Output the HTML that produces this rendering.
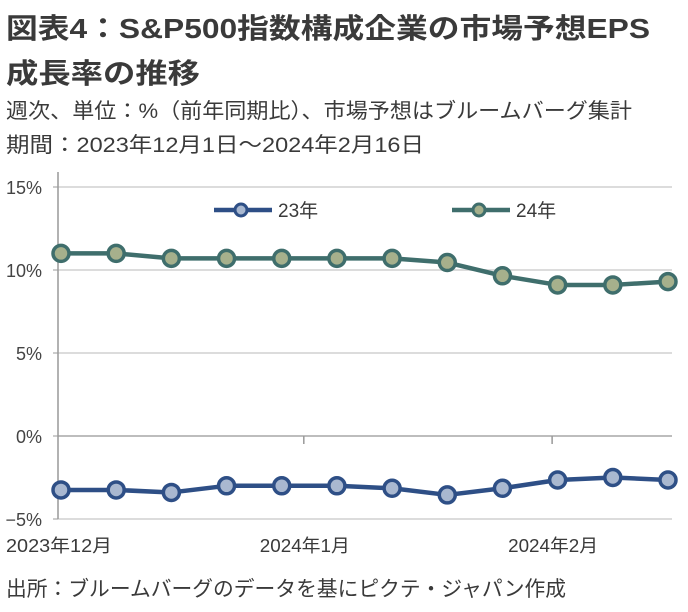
<!DOCTYPE html>
<html><head><meta charset="utf-8"><style>
html,body{margin:0;padding:0;background:#fff;}
svg{display:block;font-family:"Liberation Sans","Noto Sans CJK JP",sans-serif;}
</style></head><body>
<svg id="chart" width="688" height="612" viewBox="0 0 688 612" xmlns="http://www.w3.org/2000/svg">
<text x="6" y="38" font-size="28" font-weight="bold" fill="#3a3a3a" textLength="644" lengthAdjust="spacingAndGlyphs">図表4：S&amp;P500指数構成企業の市場予想EPS</text>
<text x="6" y="83" font-size="28" font-weight="bold" fill="#3a3a3a" textLength="194" lengthAdjust="spacingAndGlyphs">成長率の推移</text>
<text x="6" y="118" font-size="21" fill="#3a3a3a" textLength="626" lengthAdjust="spacingAndGlyphs">週次、単位：%（前年同期比）、市場予想はブルームバーグ集計</text>
<text x="6" y="152" font-size="21" fill="#3a3a3a" textLength="418" lengthAdjust="spacingAndGlyphs">期間：2023年12月1日～2024年2月16日</text>
<text x="6" y="596" font-size="21" fill="#3a3a3a" textLength="560" lengthAdjust="spacingAndGlyphs">出所：ブルームバーグのデータを基にピクテ・ジャパン作成</text>
<g id="plot"></g>
</svg>
<script>
const categories = ["2023-12-01","2023-12-08","2023-12-15","2023-12-22","2023-12-29","2024-01-05","2024-01-12","2024-01-19","2024-01-26","2024-02-02","2024-02-09","2024-02-16"];
const series23 = [-3.25,-3.25,-3.4,-3.0,-3.0,-3.0,-3.15,-3.55,-3.15,-2.65,-2.5,-2.65];
const series24 = [11.0,11.0,10.7,10.7,10.7,10.7,10.7,10.45,9.65,9.1,9.1,9.3];
const yTicks = [15,10,5,0,-5];
const yTickLabels = ["15%","10%","5%","0%","−5%"];
const xLabels = ["2023年12月","2024年1月","2024年2月"];
const xLabelIdx = [0,4.4,8.9];

const NS="http://www.w3.org/2000/svg";
const g=document.getElementById('plot');
const X0=61, X1=668, axisX=58, gridEnd=672;
const xs=i=>X0+(X1-X0)*i/(categories.length-1);
const ys=v=>436-v*16.6;
function mk(t,a){const e=document.createElementNS(NS,t);for(const k in a)e.setAttribute(k,a[k]);g.appendChild(e);return e;}

yTicks.forEach((v,i)=>{
  const l=mk('line',{x1:axisX,x2:gridEnd,y1:ys(v),y2:ys(v),stroke:v===0?'#bdbdbd':'#dcdcdc','stroke-width':2});
  
  
  const t=mk('text',{x:42,y:ys(v)+7,'font-size':18,fill:'#444','text-anchor':'end'});
  t.textContent=yTickLabels[i];
  
  
  const tk=mk('line',{x1:axisX-5,x2:axisX,y1:ys(v),y2:ys(v),stroke:'#999','stroke-width':1});
  
  
});
const ax=mk('line',{x1:axisX,x2:axisX,y1:172,y2:ys(-5),stroke:'#999','stroke-width':1.5});


xLabelIdx.forEach((idx,i)=>{
  const x=xs(idx);
  if(i>0){const tk=mk('line',{x1:x,x2:x,y1:ys(0),y2:ys(0)+8,stroke:'#999','stroke-width':1.5});
  
  }
  const t=mk('text',{x:i===0?6:x-44,y:552,'font-size':18,fill:'#3a3a3a',textLength:i===0?106:90,lengthAdjust:'spacingAndGlyphs'});
  t.textContent=xLabels[i];
  
  
});
function drawSeries(vals,stroke,fill,name){
  const p=mk('polyline',{points:vals.map((v,i)=>xs(i)+','+ys(v)).join(' '),fill:'none',stroke:stroke,'stroke-width':4.5,'stroke-linejoin':'round'});
  
  
  vals.forEach((v,i)=>{
    const c=mk('circle',{cx:xs(i),cy:ys(v),r:8,fill:fill,stroke:stroke,'stroke-width':3.5});
    
    
  });
}
drawSeries(series24,'#3f6e6c','#a6b08c','series-24');
drawSeries(series23,'#2e4f86','#a9b8d0','series-23');
function legend(x,stroke,fill,label,name){
  const l=mk('line',{x1:x,x2:x+58,y1:210,y2:210,stroke:stroke,'stroke-width':4.5});
  
  
  const c=mk('circle',{cx:x+27,cy:210,r:6,fill:fill,stroke:stroke,'stroke-width':3});
  
  
  const t=mk('text',{x:x+64,y:217,'font-size':19,fill:'#3a3a3a'});
  t.textContent=label;
  
  
}
legend(214,'#2e4f86','#a9b8d0','23年','series-23');
legend(452,'#3f6e6c','#a6b08c','24年','series-24');
</script>
</body></html>
